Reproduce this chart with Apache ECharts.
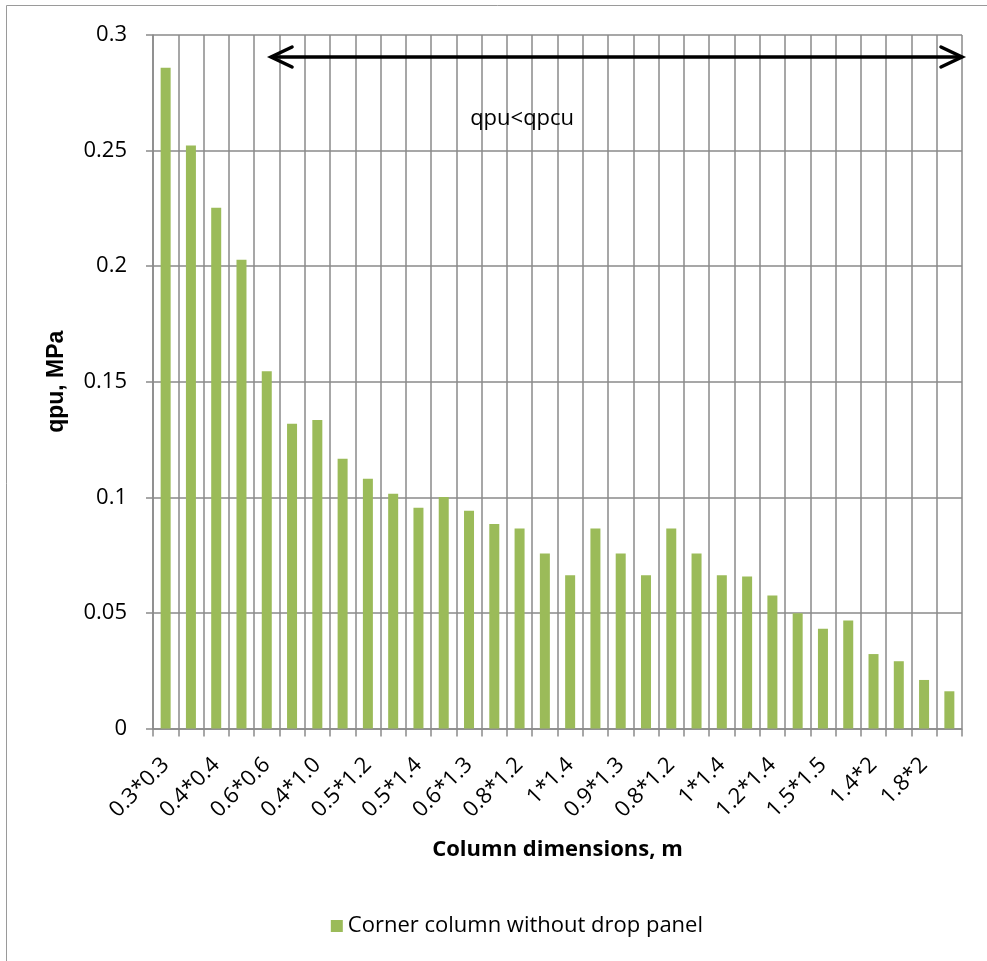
<!DOCTYPE html>
<html>
<head>
<meta charset="utf-8">
<title>Corner column without drop panel</title>
<script src="https://cdn.jsdelivr.net/npm/echarts@6/dist/echarts.min.js"></script>
<style>
  html, body { margin: 0; padding: 0; background: #fff; }
  #chart { width: 987px; height: 961px; }
</style>
</head>
<body>
<div id="chart"></div>
<script>
// Column cross-sections (b*h, m); only every other name is printed on the axis
const categories = [
  '0.3*0.3', '0.35*0.35', '0.4*0.4', '0.5*0.5', '0.6*0.6', '0.3*1.0',
  '0.4*1.0', '0.4*1.2', '0.5*1.2', '0.4*1.4', '0.5*1.4', '0.5*1.3',
  '0.6*1.3', '0.6*1.4', '0.8*1.2', '0.7*1.4', '1*1.4', '0.8*1.3',
  '0.9*1.3', '0.8*1.4', '0.8*1.2', '0.9*1.4', '1*1.4', '1.2*1.2',
  '1.2*1.4', '1.4*1.4', '1.5*1.5', '1.2*2', '1.4*2', '1.6*2',
  '1.8*2', '2*2'
];

// Ultimate punching load qpu, MPa
const qpuValues = [
  0.2858, 0.2522, 0.2253, 0.2028, 0.1545, 0.1318,
  0.1335, 0.1167, 0.1080, 0.1015, 0.0955, 0.1001,
  0.0942, 0.0885, 0.0865, 0.0757, 0.0663, 0.0865,
  0.0757, 0.0663, 0.0865, 0.0757, 0.0663, 0.0657,
  0.0575, 0.0499, 0.0431, 0.0467, 0.0322, 0.0291,
  0.0210, 0.0161
];

const yTicks = { min: 0, max: 0.3, interval: 0.05 };

const seriesName = 'Corner column without drop panel';
const xTitle = 'Column dimensions, m';
const yTitle = 'qpu, MPa';
const rangeNote = 'qpu<qpcu';

// Range of the qpu<qpcu arrow, in category units from the left plot edge
const arrowSpan = { from: 4.67, to: 32, value: 0.2905 };
const notePos = { at: 14.6, value: 0.2638 };

const gridColor = '#8a8a8a';
const labelFont = '"Open Sans", "Liberation Sans", sans-serif';

const chart = echarts.init(document.getElementById('chart'), null, { renderer: 'canvas' });

chart.setOption({
  backgroundColor: '#ffffff',
  animation: false,
  grid: { left: 153, right: 25, top: 35, bottom: 232.5, containLabel: false },
  legend: {
    right: 279,
    top: 910,
    itemWidth: 12,
    itemHeight: 12,
    itemGap: 10,
    icon: 'rect',
    textStyle: { fontFamily: labelFont, fontSize: 22, color: '#000' },
    data: [seriesName]
  },
  xAxis: {
    type: 'category',
    data: categories,
    boundaryGap: true,
    name: xTitle,
    nameLocation: 'middle',
    nameGap: 110,
    nameTextStyle: { fontFamily: labelFont, fontSize: 22, fontWeight: 'bold', color: '#000' },
    axisLine: { show: true, lineStyle: { color: gridColor, width: 1.5 } },
    axisTick: { show: true, interval: 0, length: 8, lineStyle: { color: gridColor, width: 1.5 } },
    axisLabel: {
      interval: 1,
      rotate: 45,
      margin: 33,
      fontFamily: labelFont,
      fontSize: 22,
      color: '#000'
    },
    splitLine: { show: true, interval: 0, lineStyle: { color: gridColor, width: 1.5 } }
  },
  yAxis: {
    type: 'value',
    min: yTicks.min,
    max: yTicks.max,
    interval: yTicks.interval,
    name: yTitle,
    nameLocation: 'middle',
    nameGap: 85,
    nameTextStyle: {
      fontFamily: '"Liberation Sans", sans-serif',
      fontSize: 23,
      fontWeight: 'bold',
      color: '#000'
    },
    axisLine: { show: true, lineStyle: { color: gridColor, width: 1.5 } },
    axisTick: { show: true, inside: false, length: 7, lineStyle: { color: gridColor, width: 1.5 } },
    axisLabel: {
      margin: 26,
      fontFamily: labelFont,
      fontSize: 22,
      color: '#000',
      formatter: v => String(Math.round(v * 100) / 100)
    },
    splitLine: { show: true, lineStyle: { color: gridColor, width: 1.5 } }
  },
  series: [{
    name: seriesName,
    type: 'bar',
    data: qpuValues,
    barWidth: 10,
    itemStyle: { color: '#9BBB59' }
  }]
});

// Annotation: double-headed arrow over the range where qpu<qpcu, plus its note
function drawAnnotation() {
  const c0 = chart.convertToPixel({ xAxisIndex: 0 }, 0);
  const c1 = chart.convertToPixel({ xAxisIndex: 0 }, 1);
  const band = c1 - c0;
  const edge = c0 - band / 2;
  const xAt = k => edge + k * band;
  const yAt = v => chart.convertToPixel({ yAxisIndex: 0 }, v);

  const x1 = xAt(arrowSpan.from);
  const x2 = xAt(arrowSpan.to);
  const ya = yAt(arrowSpan.value);
  const head = { dx: 21, dy: 10 };
  const stroke = { stroke: '#000', lineWidth: 3.5, lineCap: 'round', lineJoin: 'miter' };

  chart.setOption({
    graphic: [
      {
        type: 'rect',
        silent: true,
        z: -10,
        shape: { x: 6.5, y: 5.5, width: 1100, height: 1100 },
        style: { fill: 'none', stroke: '#9a9a9a', lineWidth: 1 }
      },
      {
        type: 'line',
        silent: true,
        z: 100,
        shape: { x1: x1 + 1, y1: ya, x2: x2 - 1, y2: ya },
        style: stroke
      },
      {
        type: 'polyline',
        silent: true,
        z: 100,
        shape: { points: [[x1 + head.dx, ya - head.dy], [x1, ya], [x1 + head.dx, ya + head.dy]] },
        style: Object.assign({ fill: 'none' }, stroke)
      },
      {
        type: 'polyline',
        silent: true,
        z: 100,
        shape: { points: [[x2 - head.dx, ya - head.dy], [x2, ya], [x2 - head.dx, ya + head.dy]] },
        style: Object.assign({ fill: 'none' }, stroke)
      },
      {
        type: 'text',
        silent: true,
        z: 100,
        x: xAt(notePos.at),
        y: yAt(notePos.value),
        style: {
          text: rangeNote,
          fill: '#000',
          font: '22px "Open Sans", "Liberation Sans", sans-serif',
          align: 'center',
          verticalAlign: 'middle'
        }
      }
    ]
  });
}

drawAnnotation();
</script>
</body>
</html>
